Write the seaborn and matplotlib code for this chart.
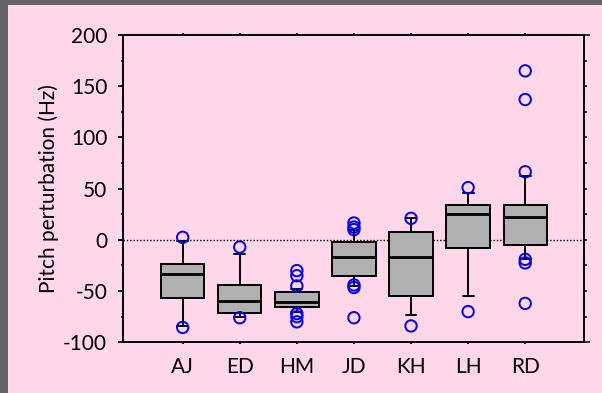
import numpy as np
import pandas as pd
import matplotlib
matplotlib.use("Agg")
import matplotlib.pyplot as plt
from matplotlib.patches import Rectangle
from matplotlib.ticker import MultipleLocator, FixedLocator
import seaborn as sns

# ---- data ----
categories = ["AJ", "ED", "HM", "JD", "KH", "LH", "RD"]
whisker_low = [-84.0, -75.0, -70.0, -45.0, -73.5, -55.0, -19.0]
q1 = [-56.7, -71.0, -66.0, -34.8, -55.0, -8.0, -5.0]
median = [-33.0, -59.6, -61.0, -17.2, -17.2, 24.8, 22.0]
q3 = [-23.5, -43.6, -51.0, -1.6, 7.5, 34.2, 34.2]
whisker_high = [-1.0, -14.0, -48.0, 9.5, 21.0, 45.3, 62.5]

outlier_groups = ["AJ", "AJ",
                  "ED", "ED",
                  "HM", "HM", "HM", "HM", "HM", "HM",
                  "JD", "JD", "JD", "JD", "JD", "JD",
                  "KH", "KH",
                  "LH", "LH",
                  "RD", "RD", "RD", "RD", "RD", "RD"]
outlier_values = [2.5, -85.5,
                  -7.0, -76.0,
                  -30.0, -35.0, -45.0, -72.0, -75.0, -80.0,
                  16.5, 12.5, 10.0, -44.0, -46.5, -76.0,
                  21.0, -84.0,
                  51.0, -70.0,
                  165.0, 137.0, 66.5, -19.0, -22.5, -62.0]

y_label = "Pitch perturbation (Hz)"

# Five summary values per group -> box stats with whis=(0, 100)
rows = []
for i, c in enumerate(categories):
    for v in (whisker_low[i], q1[i], median[i], q3[i], whisker_high[i]):
        rows.append({"group": c, "value": v})
box_df = pd.DataFrame(rows)
out_df = pd.DataFrame({"group": outlier_groups, "value": outlier_values})

sns.set_style("ticks")
plt.rcParams["font.family"] = ["Lato", "DejaVu Sans"]
plt.rcParams["axes.unicode_minus"] = False

fig = plt.figure(figsize=(6.02, 3.93), dpi=100)
fig.patch.set_facecolor("#646464")
fig.patches.append(Rectangle((8 / 602, 0), 1 - 8 / 602, 1 - 5 / 393,
                             transform=fig.transFigure, facecolor="#FFD7E8",
                             edgecolor="none", zorder=-10))

ax = fig.add_axes([123.3 / 602, (393 - 342.3) / 393,
                   (584 - 123.3) / 602, (342.3 - 35) / 393])
ax.set_facecolor("none")

ax.axhline(0, color="black", linestyle=(0, (1, 1.4)), linewidth=1.0, zorder=0.5)

sns.boxplot(data=box_df, x="group", y="value", order=categories, ax=ax,
            whis=(0, 100), showfliers=False, width=0.76, saturation=1,
            color="#B0B0B0", linecolor="black", linewidth=1.4,
            medianprops=dict(linewidth=2.0), capwidths=0.19)

sns.stripplot(data=out_df, x="group", y="value", order=categories, ax=ax,
              jitter=False, marker="o", size=8.2, facecolors="none",
              edgecolor="#0000FF", linewidth=1.4, zorder=5)

ax.set_xlim(-1.04, 7.03)
ax.set_ylim(-100, 200)
ax.yaxis.set_major_locator(MultipleLocator(50))
ax.yaxis.set_minor_locator(MultipleLocator(25))

for s in ax.spines.values():
    s.set_visible(True)
    s.set_linewidth(1.4)
    s.set_color("black")

ax.tick_params(axis="y", which="major", direction="out", length=3.6, width=1.3,
               pad=8, labelsize=15, right=False, colors="black")
ax.tick_params(axis="y", which="minor", direction="out", length=1.8, width=1.3,
               right=False)
ax.tick_params(axis="x", which="major", direction="out", length=1.6, width=1.3,
               pad=9, labelsize=15, top=True, colors="black")

sec = ax.secondary_yaxis("right")
sec.yaxis.set_major_locator(FixedLocator([-100, 200]))
sec.yaxis.set_minor_locator(FixedLocator(list(range(-75, 200, 25))))
sec.tick_params(which="major", direction="out", length=4.3, width=1.3, labelright=False)
sec.tick_params(which="minor", direction="out", length=2.0, width=1.3)
sec.spines["right"].set_linewidth(1.4)

ax.set_xlabel("")
ax.set_ylabel(y_label, fontsize=15, color="black")
ax.yaxis.set_label_coords(-0.14, 0.5)

fig.savefig("out.png", dpi=100, facecolor=fig.get_facecolor())
